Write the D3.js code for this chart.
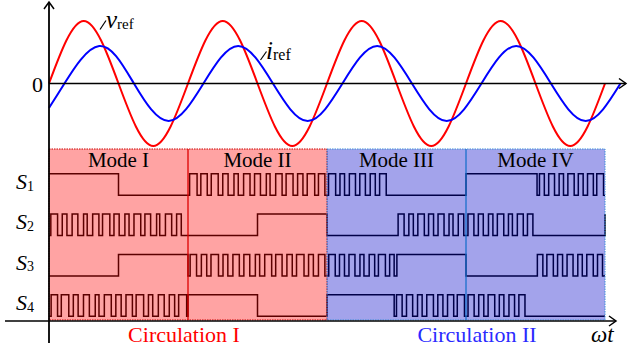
<!DOCTYPE html>
<html><head><meta charset="utf-8">
<script src="https://cdn.jsdelivr.net/npm/d3@7"></script>
<style>body{margin:0;background:#fff}svg{display:block}</style>
</head><body><svg id="c" width="628" height="351" font-family="'Liberation Serif', 'DejaVu Serif', serif"></svg>
<script>
// ---------- data ----------
const vT   = [0,90,180,270,360,450,540,630,720,810,900,990,1080,1170,1260,1350,1440];
const vVal = [0,1,0,-1,0,1,0,-1,0,1,0,-1,0,1,0,-1,0];
const iT   = [0,40,130,220,310,400,490,580,670,760,850,940,1030,1120,1210,1300,1390,1480];
const iVal = [-0.39,0,0.6,0,-0.6,0,0.6,0,-0.6,0,0.6,0,-0.6,0,0.6,0,-0.6,0];

const modes = ["Mode I","Mode II","Mode III","Mode IV"];
const modeStart = [0,360,720,1080];
const modeEnd   = [360,720,1080,1440];
const circulations = ["Circulation I","Circulation II"];
const rows = ["1","2","3","4"];

// PWM duty cycles per carrier slot
const dS2a = [0.65,0.45,0.55,0.35,0.6,0.7,0.5,0.4,0.65,0.55,0.3,0.6,0.45];
const dS4a = [0.6,0.7,0.45,0.55,0.35,0.65,0.5,0.6,0.7,0.4,0.55,0.5,0.75];
const dS1b = [0.7,0.6,0.65,0.5,0.4,0.6,0.55,0.35,0.6,0.65,0.5,0.7,0.6];
const dS3b = [0.6,0.5,0.7,0.45,0.6,0.55,0.4,0.65,0.6,0.5,0.7,0.45,0.6];
const dS1c = [0.7,0.45,0.6,0.55,0.5,0.65];
const dS3c = [0.65,0.5,0.6,0.4,0.55,0.7,0.45];
const dS2c = [0.6,0.45,0.65,0.5,0.6,0.4,0.55];
const dS4c = [0.55,0.6,0.45,0.65,0.5,0.6,0.7];
const dS2d = [0.6,0.5,0.45,0.65,0.4,0.6,0.55];
const dS4d = [0.6,0.5,0.65,0.45,0.55,0.6];
const dS1d = [0.5,0.6,0.45,0.65,0.5,0.6,0.7];
const dS3d = [0.55,0.65,0.5,0.6,0.45,0.65,0.5];

// segments: [start, end, level or duty list]
const S1 = [[0,180,1],[180,360,0],[360,720,dS1b],[720,878,dS1c],[878,1080,0],[1080,1264,1],[1264,1440,dS1d]];
const S2 = [[0,350,dS2a],[350,540,0],[540,720,1],[720,899,0],[899,1080,dS2c],[1080,1259,dS2d],[1259,1440,0]];
const S3 = [[0,180,0],[180,360,1],[360,720,dS3b],[720,901,dS3c],[901,1080,1],[1080,1259,0],[1259,1440,dS3d]];
const S4 = [[0,360,dS4a],[360,540,1],[540,720,0],[720,894,1],[894,1080,dS4c],[1080,1238,dS4d],[1238,1440,0]];
const signals = [S1,S2,S3,S4];
const finalLevel = [0,1,0,0];

// ---------- drawing ----------
const svg = d3.select("#c");
const x = d3.scaleLinear().domain([0,1440]).range([49,605]);
const y = d3.scaleLinear().domain([-1,1]).range([146,21]);
const rowC = d3.scalePoint().domain(rows).range([184.5,305.5]);
const lvl = (r,l) => rowC(r) + (0.5 - l) * 21.5;
const regTop = 149, regBot = 320;

function arrowHead(g, px, py, dir){
  const s = 5;
  let pts;
  if (dir === "up") pts = [[px-s,py+7],[px,py],[px+s,py+7]];
  else pts = [[px-7,py-s],[px,py],[px-7,py+s]];
  g.append("path").attr("d", d3.line()(pts)).attr("fill","none").attr("stroke","#000").attr("stroke-width",1.5);
}
const ax = svg.append("g");
ax.append("line").attr("x1",49).attr("x2",49).attr("y1",2).attr("y2",343).attr("stroke","#000").attr("stroke-width",1.8);
arrowHead(ax,49,2,"up");
ax.append("line").attr("x1",49).attr("x2",626).attr("y1",y(0)).attr("y2",y(0)).attr("stroke","#000").attr("stroke-width",1.6);
arrowHead(ax,626,y(0),"right");

// sine curves
svg.append("path").datum(vT.map((t,k)=>[t,vVal[k]]))
  .attr("d", d3.line().x(d=>x(d[0])).y(d=>y(d[1])).curve(d3.curveNatural))
  .attr("fill","none").attr("stroke","#ff0000").attr("stroke-width",2);
svg.append("path").datum(iT.map((t,k)=>[t,iVal[k]]))
  .attr("d", d3.line().x(d=>x(d[0])).y(d=>y(d[1])).curve(d3.curveNatural))
  .attr("fill","none").attr("stroke","#0000ff").attr("stroke-width",2);

// labels for sine
svg.append("line").attr("x1",100).attr("y1",29.5).attr("x2",106).attr("y2",20.5).attr("stroke","#000").attr("stroke-width",1.2);
const vl = svg.append("text").attr("x",106).attr("y",28);
vl.append("tspan").text("v").attr("font-style","italic").attr("font-size",25);
vl.append("tspan").text("ref").attr("font-size",15).attr("dy",1);
svg.append("line").attr("x1",260.5).attr("y1",60).attr("x2",266.5).attr("y2",51.5).attr("stroke","#000").attr("stroke-width",1.2);
const il = svg.append("text").attr("x",266).attr("y",59);
il.append("tspan").text("i").attr("font-style","italic").attr("font-size",25);
il.append("tspan").text("ref").attr("font-size",16).attr("dy",1);
svg.append("text").attr("x",43).attr("y",92).attr("text-anchor","end").attr("font-size",22).text("0");

// signals
const step = d3.line().x(d=>x(d[0])).y(d=>d[1]).curve(d3.curveStepAfter);
signals.forEach((seg, ri) => {
  const r = rows[ri];
  const pts = [];
  seg.forEach(([a,b,kind]) => {
    if (typeof kind === "number") { pts.push([a, lvl(r,kind)]); }
    else {
      const n = kind.length, w = (b-a)/n;
      kind.forEach((d,k) => {
        const s = a + k*w;
        pts.push([s, lvl(r,0)]);
        pts.push([s + (1-d)/2*w, lvl(r,1)]);
        pts.push([s + (1+d)/2*w, lvl(r,0)]);
      });
    }
  });
  pts.push([1440, lvl(r, finalLevel[ri])]);
  svg.append("path").attr("d", step(pts)).attr("fill","none").attr("stroke","#000").attr("stroke-width",1.5);
});

// shaded regions (drawn over the signals, semi-transparent)
svg.append("rect").attr("x",x(0)).attr("y",regTop).attr("width",x(720)-x(0)).attr("height",regBot-regTop)
  .attr("fill","rgba(255,0,0,0.36)").attr("stroke","#cc0000").attr("stroke-width",1).attr("stroke-dasharray","1.5,1");
svg.append("rect").attr("x",x(720)).attr("y",regTop).attr("width",x(1440)-x(720)).attr("height",regBot-regTop)
  .attr("fill","rgba(0,0,200,0.36)").attr("stroke","#3d8fd8").attr("stroke-width",1).attr("stroke-dasharray","1.5,1");
svg.append("line").attr("x1",x(360)).attr("x2",x(360)).attr("y1",regTop).attr("y2",regBot).attr("stroke","#dd0000").attr("stroke-width",1.3);
svg.append("line").attr("x1",x(1080)).attr("x2",x(1080)).attr("y1",regTop).attr("y2",regBot).attr("stroke","#1a70cc").attr("stroke-width",1.3);

// bottom axis
ax.raise();
svg.append("line").attr("x1",5).attr("x2",616).attr("y1",321).attr("y2",321).attr("stroke","#000").attr("stroke-width",1.6);
arrowHead(svg.append("g"),616,321,"right");

// mode labels
modes.forEach((m,k) => {
  svg.append("text").attr("x",(x(modeStart[k])+x(modeEnd[k]))/2).attr("y",167)
    .attr("text-anchor","middle").attr("font-size",21).attr("fill","#000").text(m);
});

// S labels
rows.forEach((r,k) => {
  const t = svg.append("text").attr("x",16).attr("y",rowC(r)+4.5);
  t.append("tspan").text("S").attr("font-style","italic").attr("font-size",22);
  t.append("tspan").text(r).attr("font-size",14).attr("dy",1.5);
});

// circulation labels
svg.append("text").attr("x",184).attr("y",342).attr("text-anchor","middle").attr("font-size",22).attr("fill","#ff0000").text(circulations[0]);
svg.append("text").attr("x",477).attr("y",342).attr("text-anchor","middle").attr("font-size",22).attr("fill","#2a2aff").text(circulations[1]);
svg.append("text").attr("x",591).attr("y",342).attr("font-size",23).attr("font-style","italic").text("ωt");
</script></body></html>
